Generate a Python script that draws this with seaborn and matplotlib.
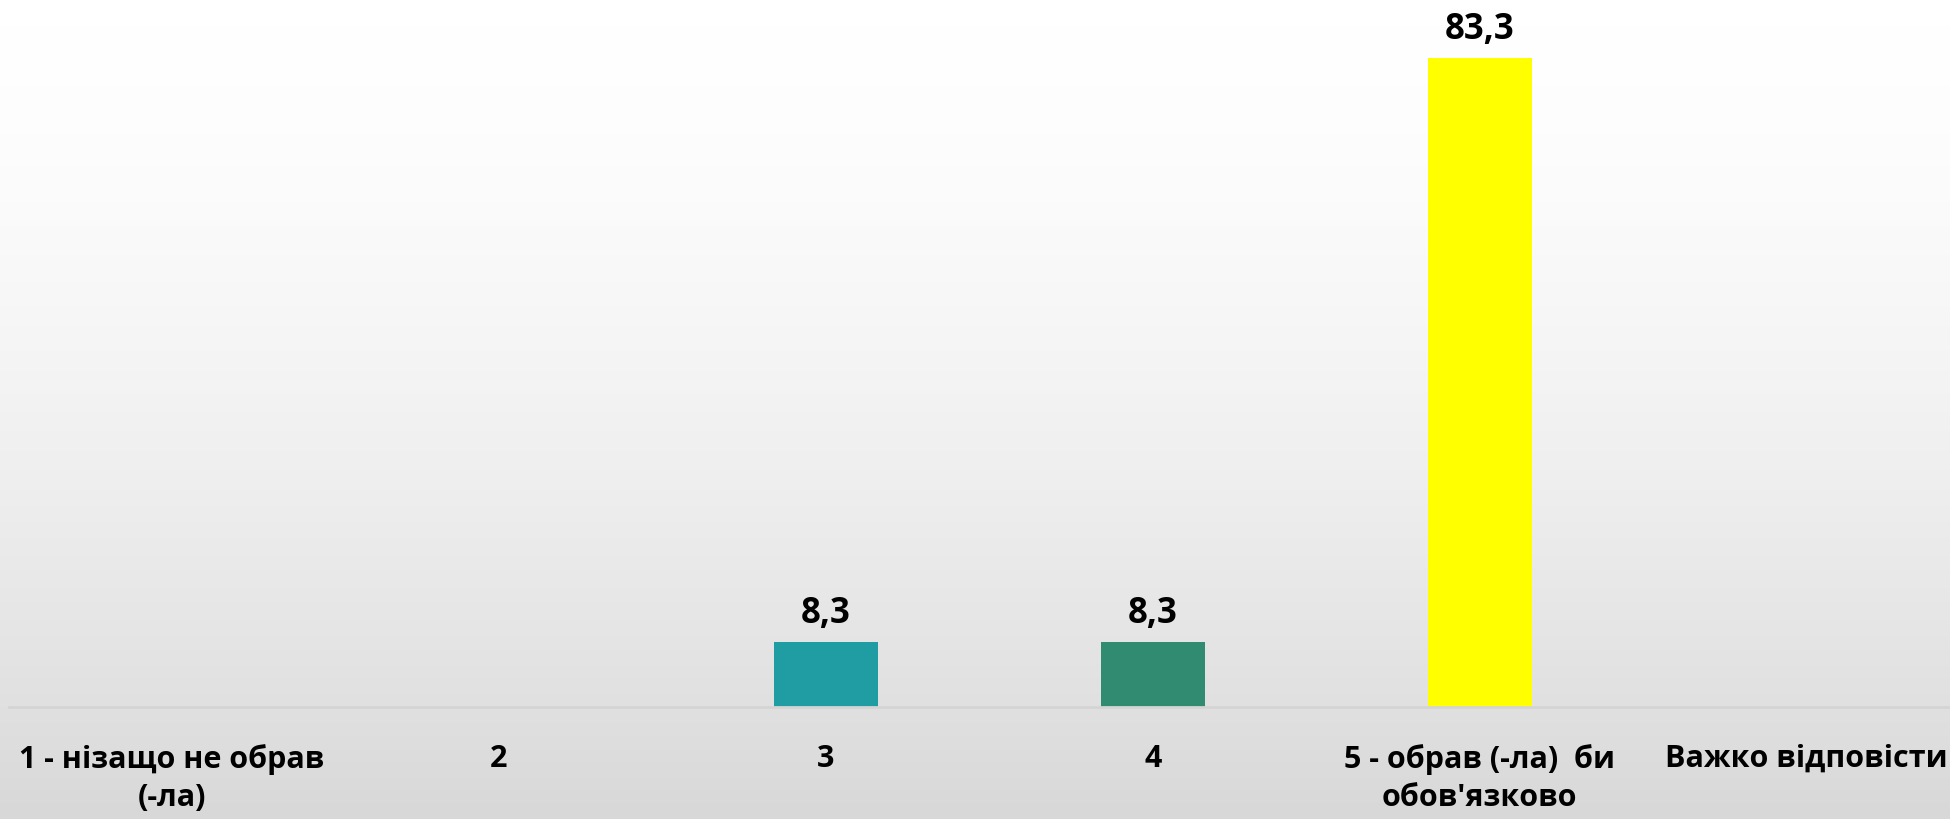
import numpy as np
import matplotlib
matplotlib.use("Agg")
import matplotlib.pyplot as plt
import seaborn as sns

# Data
categories = ["1", "2", "3", "4", "5", "6"]
tick_labels = ["1 - нізащо не обрав\n(-ла)", "2", "3", "4",
               "5 - обрав (-ла)  би\nобов'язково", "Важко відповісти"]
values = [0, 0, 8.3, 8.3, 83.3, 0]
colors = ["#1F9DA2", "#1F9DA2", "#1F9DA2", "#308B71", "#FFFF00", "#FFFF00"]

sns.set_theme(style="white")
plt.rcParams['font.family'] = ['Open Sans', 'DejaVu Sans']

fig = plt.figure(figsize=(19.5, 8.2), dpi=100)

# gradient background
bg = fig.add_axes([0, 0, 1, 1], zorder=0)
grad = np.linspace(0, 1, 256) ** 1.6
bg.imshow(grad[:, None], aspect="auto", cmap=matplotlib.colors.LinearSegmentedColormap.from_list(
    "g", ["#FFFFFF", "#D8D8D8"]), extent=[0, 1, 0, 1], origin="upper", vmin=0, vmax=1)
bg.axis("off")

ax = fig.add_axes([8.5 / 1950, 112 / 820, 1 - 8.5 / 1950, 701 / 820], zorder=1)
ax.patch.set_alpha(0)

sns.barplot(x=categories, y=values, hue=categories, palette=colors, legend=False,
            width=0.318, ax=ax, saturation=1, linewidth=0)

for i, v in enumerate(values):
    if v > 0:
        ax.annotate(f"{v:.1f}".replace(".", ","), (i, v), xytext=(0, 8),
                    textcoords="offset points", ha="center", va="bottom",
                    fontsize=25, fontweight="bold", color="black")

ax.set_ylim(0, 90)
ax.set_xlim(-0.5, 5.5 - 20 / 327)
ax.set_xticks(range(len(categories)))
ax.set_xticklabels(tick_labels, fontsize=22, fontweight="bold", color="black",
                   linespacing=1.35)
ax.tick_params(axis="x", length=0, pad=26)
ax.set_yticks([])
ax.set_xlabel("")
ax.set_ylabel("")
for s in ["top", "right", "left"]:
    ax.spines[s].set_visible(False)
ax.spines["bottom"].set_color("#D4D4D4")
ax.spines["bottom"].set_linewidth(2)

fig.savefig("out.png", dpi=100)
